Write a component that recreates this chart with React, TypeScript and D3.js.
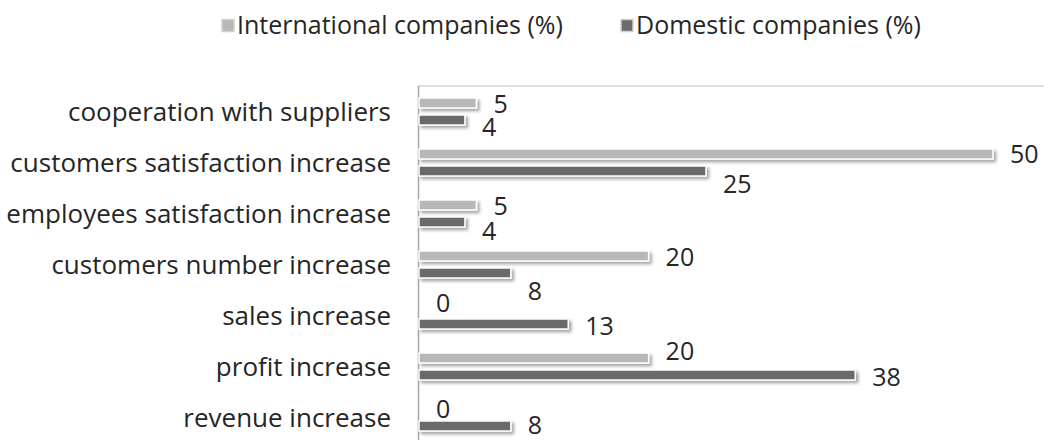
import React from "react";
import * as d3 from "d3";

const categories = [
  "cooperation with suppliers",
  "customers satisfaction increase",
  "employees satisfaction increase",
  "customers number increase",
  "sales increase",
  "profit increase",
  "revenue increase",
];
const international = [5, 50, 5, 20, 0, 20, 0];
const domestic = [4, 25, 4, 8, 13, 38, 8];
const seriesNames = ["International companies (%)", "Domestic companies (%)"];
const seriesKeys = ["intl", "dom"];
// vertical nudges of the value labels (as placed in the original)
const labelNudgeIntl = [1, 0, 1, 1, -4, -7, 0];
const labelNudgeDom = [7, 13, 9, 18, 2, 2, -1];

const W = 1051;
const H = 440;
const FONT = "'Open Sans', sans-serif";
const COLORS = ["#b8b8b8", "#6b6b6b"];
const TEXT = "#262626";

export default function App() {
  const x = d3.scaleLinear().domain([0, 50]).range([419, 993]);
  const y0 = d3.scaleBand<string>().domain(categories).range([86, 443]).padding(0);
  const y1 = d3
    .scaleBand<string>()
    .domain(seriesKeys)
    .range([0, y0.bandwidth()])
    .paddingInner(0.41)
    .paddingOuter(0.705);
  const bw = y1.bandwidth();
  const series = [international, domestic];
  const nudges = [labelNudgeIntl, labelNudgeDom];
  const legendX = [222, 621];

  return (
    <svg
      width={W}
      height={H}
      style={{ position: "absolute", left: 0, top: 0, background: "#fff" }}
      fontFamily={FONT}
    >
      <defs>
        <filter id="sh" x="-10%" y="-50%" width="120%" height="250%">
          <feDropShadow dx="2.5" dy="2.5" stdDeviation="1.6" floodColor="#000" floodOpacity="0.35" />
        </filter>
      </defs>
      <rect x={0} y={0} width={W} height={H} fill="#fff" />

      {/* legend */}
      {seriesNames.map((name, i) => {
        const sx = legendX[i];
        return (
          <g key={name}>
            <rect x={sx} y={19.5} width={12} height={12} fill={COLORS[i]} stroke="#d2d2d2" strokeWidth={1.5} />
            <text x={sx + 15} y={34} fontSize={25} fill={TEXT}>
              {name}
            </text>
          </g>
        );
      })}

      {/* plot frame */}
      <line x1={418.5} x2={1044} y1={86} y2={86} stroke="#d4d4d4" strokeWidth={1.5} />
      <line x1={418.5} x2={418.5} y1={86} y2={H} stroke="#a6a6a6" strokeWidth={1.5} />

      {/* category labels */}
      {categories.map((c) => (
        <text
          key={c}
          x={391}
          y={(y0(c) as number) + y0.bandwidth() / 2 + 9}
          textAnchor="end"
          fontSize={26}
          fill={TEXT}
        >
          {c}
        </text>
      ))}

      {/* bars */}
      {categories.map((c, ci) => (
        <g key={c} transform={`translate(0,${y0(c)})`}>
          {series.map((vals, si) => {
            const v = vals[ci];
            const by = y1(seriesKeys[si]) as number;
            const w = x(v) - x(0);
            return (
              <g key={si}>
                {w > 0 && (
                  <rect
                    x={x(0)}
                    y={by}
                    width={w}
                    height={bw}
                    fill={COLORS[si]}
                    stroke="#fff"
                    strokeWidth={1.5}
                    filter="url(#sh)"
                  />
                )}
                <text
                  x={x(v) + 17}
                  y={by + bw / 2 + nudges[si][ci] + 9}
                  fontSize={25}
                  fill={TEXT}
                >
                  {v}
                </text>
              </g>
            );
          })}
        </g>
      ))}
    </svg>
  );
}
